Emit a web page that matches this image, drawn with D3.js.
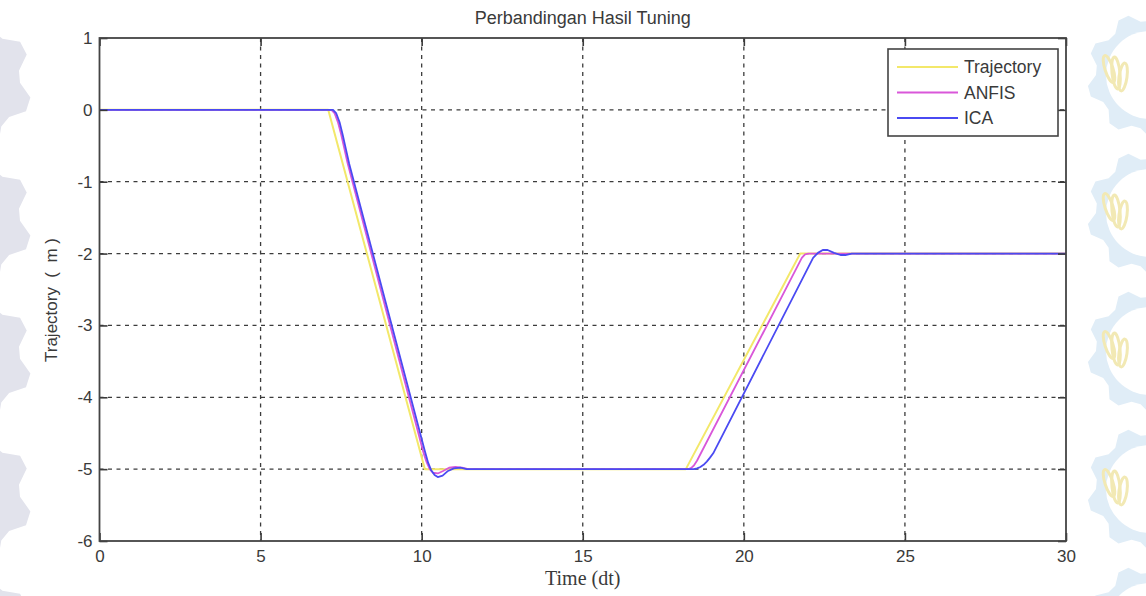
<!DOCTYPE html>
<html>
<head>
<meta charset="utf-8">
<script src="https://cdn.jsdelivr.net/npm/d3@7"></script>
<style>
  html, body { margin: 0; padding: 0; background: #ffffff; }
  svg { display: block; }
  text { font-family: "Liberation Sans", Arial, sans-serif; fill: #3a3a3a; }
</style>
</head>
<body>
<svg id="chart" width="1146" height="596"></svg>
<script>
// ---- data ----
const titleText = "Perbandingan Hasil Tuning";
const xLabelText = "Time (dt)";
const yLabelText = "Trajectory  (  m )";

const xTicks = [0, 5, 10, 15, 20, 25, 30];
const yTicks = [1, 0, -1, -2, -3, -4, -5, -6];

const seriesNames = ["Trajectory", "ANFIS", "ICA"];
const seriesColors = ["#f3e86a", "#d957d9", "#4a4af2"];

// reference trajectory
const trajT = [0, 7.1, 10.1, 18.2, 21.75, 30];
const trajY = [0, 0, -5, -5, -2, -2];

// ANFIS tuned response
const anfisT = [0, 7.2, 7.3, 7.4, 7.5, 7.6, 7.7, 10.05, 10.15, 10.25, 10.35, 10.5, 10.65, 10.85, 11.05, 11.25, 11.45,
                18.28, 18.36, 18.45, 18.55, 21.8, 21.9, 22.0, 30];
const anfisY = [0, 0, -0.05, -0.17, -0.34, -0.54, -0.74, -4.76, -4.9, -5.0, -5.05, -5.06, -5.03, -4.98, -4.97, -4.98, -5.0,
                -5.0, -4.985, -4.95, -4.88, -2.06, -2.01, -2.0, -2.0];

// ICA tuned response
const icaT = [0, 7.25, 7.35, 7.45, 7.55, 7.65, 7.75, 10.1, 10.2, 10.3, 10.4, 10.5, 10.65, 10.8, 11.0, 11.2, 11.4,
              18.45, 18.55, 18.65, 18.75, 18.85, 18.95, 19.05, 22.15, 22.3, 22.45, 22.6, 22.8, 23.0, 23.15, 23.35, 30];
const icaY = [0, 0, -0.05, -0.17, -0.35, -0.55, -0.75, -4.75, -4.91, -5.02, -5.08, -5.11, -5.09, -5.03, -4.99, -4.98, -5.0,
              -5.0, -4.99, -4.97, -4.94, -4.895, -4.84, -4.78, -2.06, -1.99, -1.95, -1.95, -1.99, -2.02, -2.02, -2.0, -2.0];

// ---- layout ----
const svg = d3.select("#chart");
const W = 1146, H = 596;
const plot = { left: 99.5, right: 1066, top: 38, bottom: 541 };

const x = d3.scaleLinear().domain([0, 30]).range([plot.left, plot.right]);
const y = d3.scaleLinear().domain([-6, 1]).range([plot.bottom, plot.top]);

svg.append("rect").attr("width", W).attr("height", H).attr("fill", "#ffffff");

// ---- faint gear emblems along the page edges ----
function gearPath(r0, r1, teeth) {
  const pts = [];
  const n = teeth * 4;
  for (let i = 0; i < n; i++) {
    const a = (i / n) * 2 * Math.PI;
    const r = (i % 4 === 0 || i % 4 === 1) ? r1 : r0;
    pts.push([Math.cos(a) * r, Math.sin(a) * r]);
  }
  return "M" + pts.map(p => p.join(",")).join("L") + "Z";
}
const deco = svg.append("g");
const leftCenters = [82, 220, 358, 496, 634];
leftCenters.forEach(cy => {
  const g = deco.append("g").attr("transform", `translate(-42,${cy}) rotate(12)`);
  g.append("path").attr("d", gearPath(62, 74, 8)).attr("fill", "#e2e3ec");
  g.append("circle").attr("r", 40).attr("fill", "#ffffff");
});
const rightCenters = [75, 213, 351, 489, 627];
rightCenters.forEach(cy => {
  const g = deco.append("g").attr("transform", `translate(1150,${cy})`);
  g.append("path").attr("d", gearPath(54, 63, 9)).attr("fill", "#e0edf7");
  g.append("circle").attr("r", 44).attr("fill", "#ffffff");
  // flame emblem
  const f = g.append("g").attr("transform", "translate(-36,4)");
  [[-5, -10, 28, -18], [2, -6, 32, -6], [9, -2, 28, 8]].forEach(([dx, dy, h, rot]) => {
    f.append("ellipse").attr("cx", dx).attr("cy", dy).attr("rx", 4).attr("ry", h / 2)
      .attr("transform", `rotate(${rot},${dx},${dy})`)
      .attr("fill", "none").attr("stroke", "#f2e9b4").attr("stroke-width", 3);
  });
});

// ---- plot area ----
svg.append("rect")
  .attr("x", plot.left).attr("y", plot.top)
  .attr("width", plot.right - plot.left).attr("height", plot.bottom - plot.top)
  .attr("fill", "#ffffff");

// grid
const grid = svg.append("g").attr("stroke", "#3c3c3c").attr("stroke-width", 1.3)
  .attr("stroke-dasharray", "4,4.5");
grid.selectAll("line.v").data(xTicks.filter(t => t > 0 && t < 30)).join("line")
  .attr("class", "v")
  .attr("x1", d => x(d)).attr("x2", d => x(d))
  .attr("y1", plot.top).attr("y2", plot.bottom);
grid.selectAll("line.h").data(yTicks.filter(t => t < 1 && t > -6)).join("line")
  .attr("class", "h")
  .attr("x1", plot.left).attr("x2", plot.right)
  .attr("y1", d => y(d)).attr("y2", d => y(d));

// series
const line = d3.line().x(d => x(d[0])).y(d => y(d[1]));
const seriesData = [
  d3.zip(trajT, trajY),
  d3.zip(anfisT, anfisY),
  d3.zip(icaT, icaY)
];
const widths = [2, 1.8, 1.8];
seriesData.forEach((pts, i) => {
  svg.append("path").datum(pts)
    .attr("d", line)
    .attr("fill", "none")
    .attr("stroke", seriesColors[i])
    .attr("stroke-width", widths[i])
    .attr("stroke-linejoin", "round");
});

// axes (ticks point inward on all four sides)
const plainNum = d => String(d);
function styleAxis(g) {
  g.select(".domain").remove();
  g.selectAll(".tick line").attr("stroke", "#3a3a3a").attr("stroke-width", 1.6);
  g.selectAll(".tick text").attr("fill", "#3a3a3a")
    .style("font-family", '"Liberation Sans", Arial, sans-serif').style("font-size", "17px");
}
svg.append("g").attr("transform", `translate(0,${plot.bottom})`)
  .call(d3.axisBottom(x).tickValues(xTicks).tickSizeInner(-8).tickSizeOuter(0).tickPadding(9).tickFormat(plainNum))
  .call(styleAxis);
svg.append("g").attr("transform", `translate(0,${plot.top})`)
  .call(d3.axisTop(x).tickValues(xTicks).tickSizeInner(-8).tickSizeOuter(0).tickFormat(""))
  .call(styleAxis);
svg.append("g").attr("transform", `translate(${plot.left},0)`)
  .call(d3.axisLeft(y).tickValues(yTicks).tickSizeInner(-8).tickSizeOuter(0).tickPadding(7).tickFormat(plainNum))
  .call(styleAxis);
svg.append("g").attr("transform", `translate(${plot.right},0)`)
  .call(d3.axisRight(y).tickValues(yTicks).tickSizeInner(-8).tickSizeOuter(0).tickFormat(""))
  .call(styleAxis);

// box
svg.append("rect")
  .attr("x", plot.left).attr("y", plot.top)
  .attr("width", plot.right - plot.left).attr("height", plot.bottom - plot.top)
  .attr("fill", "none").attr("stroke", "#444444").attr("stroke-width", 1.8);

// title and axis labels
svg.append("text").attr("x", (plot.left + plot.right) / 2).attr("y", 24)
  .attr("text-anchor", "middle").style("font-size", "18px").text(titleText);
svg.append("text").attr("x", (plot.left + plot.right) / 2).attr("y", 585)
  .attr("text-anchor", "middle")
  .style("font-family", '"Liberation Serif", "Times New Roman", serif').style("font-size", "20px")
  .text(xLabelText);
svg.append("text").attr("transform", "translate(57,300) rotate(-90)")
  .attr("text-anchor", "middle").style("font-size", "17px").style("white-space", "pre")
  .text(yLabelText);

// legend
const lg = svg.append("g");
lg.append("rect").attr("x", 888).attr("y", 49).attr("width", 170).attr("height", 87)
  .attr("fill", "#ffffff").attr("stroke", "#444444").attr("stroke-width", 1.6);
const rowY = d3.scalePoint().domain(seriesNames).range([67, 118]);
seriesNames.forEach((name, i) => {
  lg.append("line").attr("x1", 897).attr("x2", 958)
    .attr("y1", rowY(name)).attr("y2", rowY(name))
    .attr("stroke", seriesColors[i]).attr("stroke-width", 2);
  lg.append("text").attr("x", 964).attr("y", rowY(name)).attr("dy", "0.35em")
    .style("font-size", "17.5px").text(name);
});
</script>
</body>
</html>
